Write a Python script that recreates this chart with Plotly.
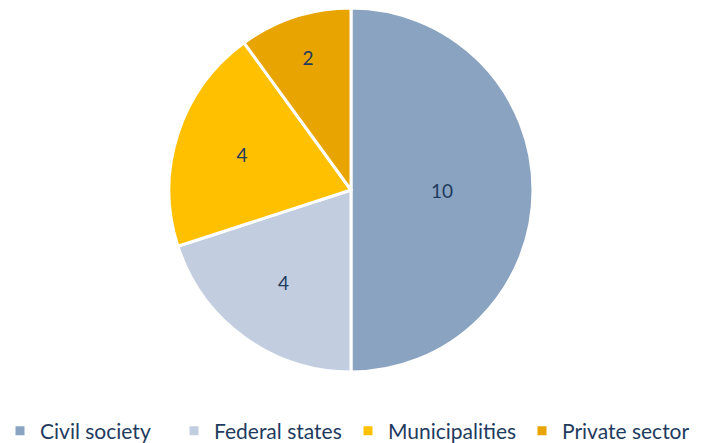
import plotly.graph_objects as go

labels = ["Civil society", "Federal states", "Municipalities", "Private sector"]
values = [10, 4, 4, 2]
colors = ["#8AA3C1", "#C2CDE0", "#FFC000", "#E8A400"]

W, H = 717, 443
cx, cy, r = 351, 190, 182

fig = go.Figure(go.Pie(
    labels=labels, values=values, sort=False, direction="clockwise", rotation=0,
    marker=dict(colors=colors, line=dict(color="white", width=3)),
    textinfo="value", textposition="inside", insidetextorientation="horizontal",
    textfont=dict(family="Lato", size=19, color="#1F3B5E"),
    domain=dict(x=[(cx - r) / W, (cx + r) / W], y=[1 - (cy + r) / H, 1 - (cy - r) / H]),
    hoverinfo="label+value",
))
fig.update_layout(
    width=W, height=H, margin=dict(l=0, r=0, t=0, b=0, autoexpand=False),
    paper_bgcolor="white", plot_bgcolor="white",
    legend=dict(orientation="h", x=0, xanchor="left", y=(H - 431) / H, yanchor="middle",
                font=dict(family="Lato", size=21, color="#1F3B5E"), itemwidth=30,
                entrywidth=129, entrywidthmode="pixels",
                traceorder="normal"),
)
fig.write_html("out.html", config={"displayModeBar": False},
               post_script="document.body.style.margin='0';")
